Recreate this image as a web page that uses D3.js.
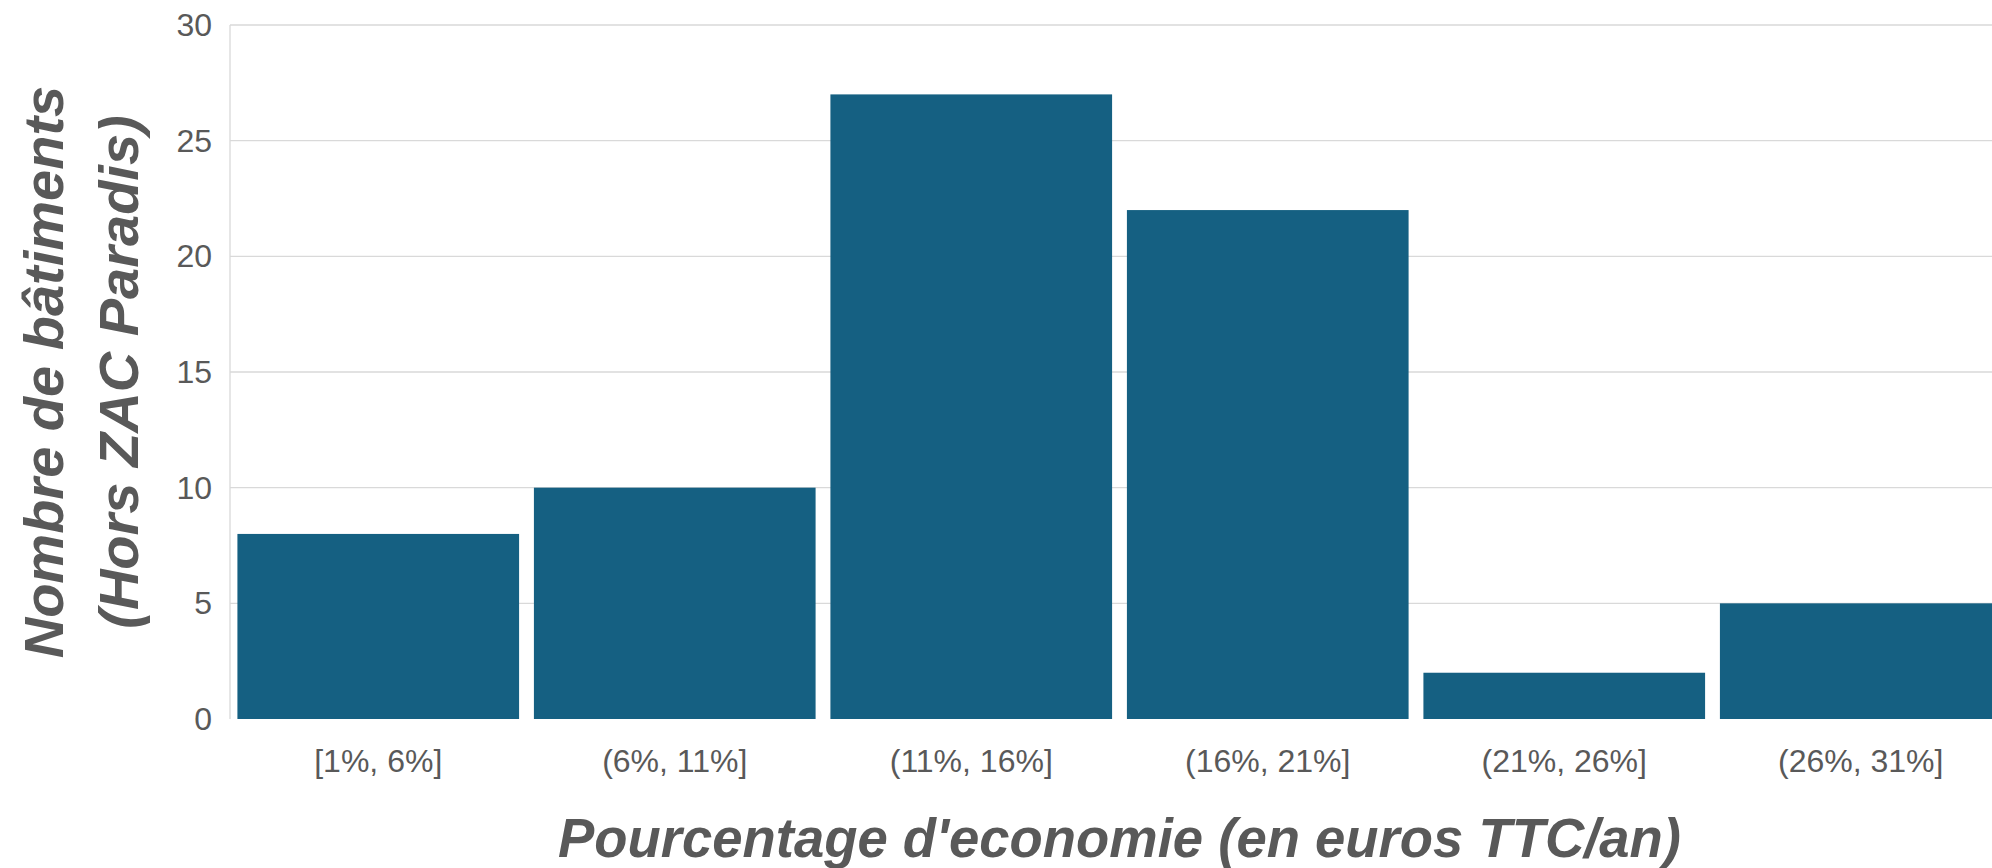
<!DOCTYPE html>
<html lang="fr">
<head>
<meta charset="UTF-8">
<title>Pourcentage d'economie</title>
<script src="https://cdnjs.cloudflare.com/ajax/libs/d3/7.8.5/d3.min.js"></script>
<style>
html, body { margin: 0; padding: 0; background: #fff; overflow: hidden; }
svg { display: block; }
.tick-label { font-family: "Liberation Sans", Arial, sans-serif; fill: #595959; }
.axis-title { font-family: "Liberation Sans", Arial, sans-serif; font-weight: bold; font-style: italic; fill: #595959; }
.grid { stroke: #d9d9d9; stroke-width: 1.3px; }
</style>
</head>
<body>
<script>
// data
var categories = ["[1%, 6%]", "(6%, 11%]", "(11%, 16%]", "(16%, 21%]", "(21%, 26%]", "(26%, 31%]"];
var counts = [8, 10, 27, 22, 2, 5];
var yTicks = [0, 5, 10, 15, 20, 25, 30];
var xTitle = "Pourcentage d'economie (en euros TTC/an)";
var yTitleLines = ["Nombre de bâtiments", "(Hors ZAC Paradis)"];

var width = 1992, height = 868;
var plot = { left: 230, right: 2009, top: 25, bottom: 719 };

var svg = d3.select("body").append("svg")
  .attr("width", width)
  .attr("height", height);

var x = d3.scaleBand()
  .domain(categories)
  .range([plot.left, plot.right])
  .paddingInner(0.05)
  .paddingOuter(0.025);

var y = d3.scaleLinear()
  .domain([0, 30])
  .range([plot.bottom, plot.top]);

// horizontal gridlines
svg.append("g").selectAll("line")
  .data(yTicks.filter(function (d) { return d > 0; }))
  .enter().append("line")
  .attr("class", "grid")
  .attr("x1", plot.left).attr("x2", plot.right)
  .attr("y1", function (d) { return y(d); })
  .attr("y2", function (d) { return y(d); });

// vertical axis line
svg.append("line")
  .attr("class", "grid")
  .attr("x1", plot.left).attr("x2", plot.left)
  .attr("y1", plot.top).attr("y2", plot.bottom);

// bars
svg.append("g").selectAll("rect")
  .data(counts)
  .enter().append("rect")
  .attr("x", function (d, i) { return x(categories[i]); })
  .attr("width", x.bandwidth())
  .attr("y", function (d) { return y(d); })
  .attr("height", function (d) { return y(0) - y(d); })
  .attr("fill", "#156082");

// y tick labels
svg.append("g").selectAll("text")
  .data(yTicks)
  .enter().append("text")
  .attr("class", "tick-label")
  .attr("x", 212)
  .attr("y", function (d) { return y(d) + 11; })
  .attr("text-anchor", "end")
  .style("font-size", "32px")
  .text(function (d) { return d; });

// category labels
svg.append("g").selectAll("text")
  .data(categories)
  .enter().append("text")
  .attr("class", "tick-label")
  .attr("x", function (d) { return x(d) + x.bandwidth() / 2; })
  .attr("y", 772)
  .attr("text-anchor", "middle")
  .style("font-size", "32px")
  .text(function (d) { return d; });

// x axis title
svg.append("text")
  .attr("class", "axis-title")
  .attr("x", (plot.left + plot.right) / 2)
  .attr("y", 857)
  .attr("text-anchor", "middle")
  .attr("textLength", 1123)
  .attr("lengthAdjust", "spacingAndGlyphs")
  .style("font-size", "55px")
  .text(xTitle);

// y axis title, two lines
var yMid = (plot.top + plot.bottom) / 2;
svg.append("g").selectAll("text")
  .data(yTitleLines)
  .enter().append("text")
  .attr("class", "axis-title")
  .attr("transform", function (d, i) {
    return "translate(" + (63 + i * 75) + "," + yMid + ") rotate(-90)";
  })
  .attr("text-anchor", "middle")
  .style("font-size", "56px")
  .text(function (d) { return d; });
</script>
</body>
</html>
